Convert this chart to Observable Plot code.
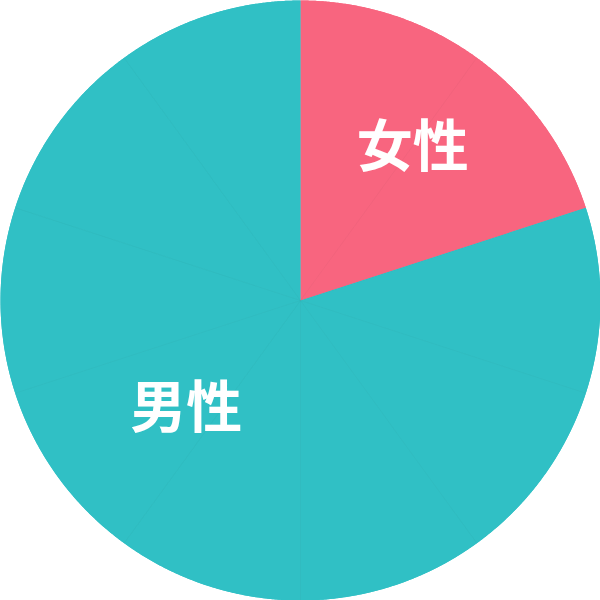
<!DOCTYPE html>
<html>
<head>
<meta charset="utf-8">
<script src="https://cdn.jsdelivr.net/npm/d3@7"></script>
<script src="https://cdn.jsdelivr.net/npm/@observablehq/plot@0.6"></script>
<style>
  html, body { margin: 0; padding: 0; background: #fff; }
  #chart { width: 600px; height: 600px; }
</style>
</head>
<body>
<div id="chart"></div>
<script>
// Data
const categories = ["女性", "男性"];
const categoryValues = [20, 80];
const sliceGroups = ["女性", "女性", "男性", "男性", "男性", "男性", "男性", "男性", "男性", "男性"];
const sliceValues = [10, 10, 10, 10, 10, 10, 10, 10, 10, 10];
const palette = ["#F8657F", "#30C0C5"];

const pie = d3.pie().sort(null).value(d => d.value);

function arcPoints(arcs, key) {
  const out = [];
  for (const s of arcs) {
    const steps = Math.max(8, Math.ceil((s.endAngle - s.startAngle) / 0.005));
    out.push({x: 0, y: 0, id: s.data[key], group: s.data.group});
    for (let k = 0; k <= steps; k++) {
      const a = s.startAngle + (s.endAngle - s.startAngle) * k / steps;
      out.push({x: Math.sin(a), y: Math.cos(a), id: s.data[key], group: s.data.group});
    }
  }
  return out;
}

// Group polygons (underlay) and individual slices
const groupArcs = pie(categories.map((c, i) => ({value: categoryValues[i], group: c})));
const groupPts = arcPoints(groupArcs, "group");
const sliceArcs = pie(sliceValues.map((v, i) => ({value: v, group: sliceGroups[i], id: i})));
const slicePts = arcPoints(sliceArcs, "id");

// Faint seams between slices
const seams = sliceArcs.map(s => ({x1: 0, y1: 0, x2: Math.sin(s.startAngle), y2: Math.cos(s.startAngle)}));

// Label positions: group arc mid-angles
const labelR = 0.637;
const labels = groupArcs.map(a => {
  const m = (a.startAngle + a.endAngle) / 2;
  return {name: a.data.group, x: labelR * Math.sin(m), y: labelR * Math.cos(m)};
});

const chart = Plot.plot({
  width: 600,
  height: 600,
  margin: 0,
  x: {domain: [-1, 1], axis: null},
  y: {domain: [-1, 1], axis: null},
  color: {domain: categories, range: palette},
  style: {background: "transparent"},
  marks: [
    Plot.line(groupPts, {x: "x", y: "y", z: "id", fill: "group", stroke: "none", curve: "linear-closed"}),
    Plot.line(slicePts, {x: "x", y: "y", z: "id", fill: "group", stroke: "none", curve: "linear-closed"}),
    Plot.link(seams.slice(1), {x1: "x1", y1: "y1", x2: "x2", y2: "y2", stroke: "#666", strokeOpacity: 0.08, strokeWidth: 0.6}),
    Plot.text(labels.filter(d => d.name === "女性"), {
      x: "x", y: "y", text: "name", fill: "white",
      fontSize: 56, fontWeight: "bold", fontFamily: "Noto Sans CJK JP",
      letterSpacing: "0.04em", dy: 2
    }),
    Plot.text(labels.filter(d => d.name === "男性"), {
      x: "x", y: "y", text: "name", fill: "white",
      fontSize: 56, fontWeight: "bold", fontFamily: "Noto Sans CJK JP",
      letterSpacing: "0.04em", dx: -2, dy: -46
    })
  ]
});
document.getElementById("chart").appendChild(chart);
</script>
</body>
</html>
